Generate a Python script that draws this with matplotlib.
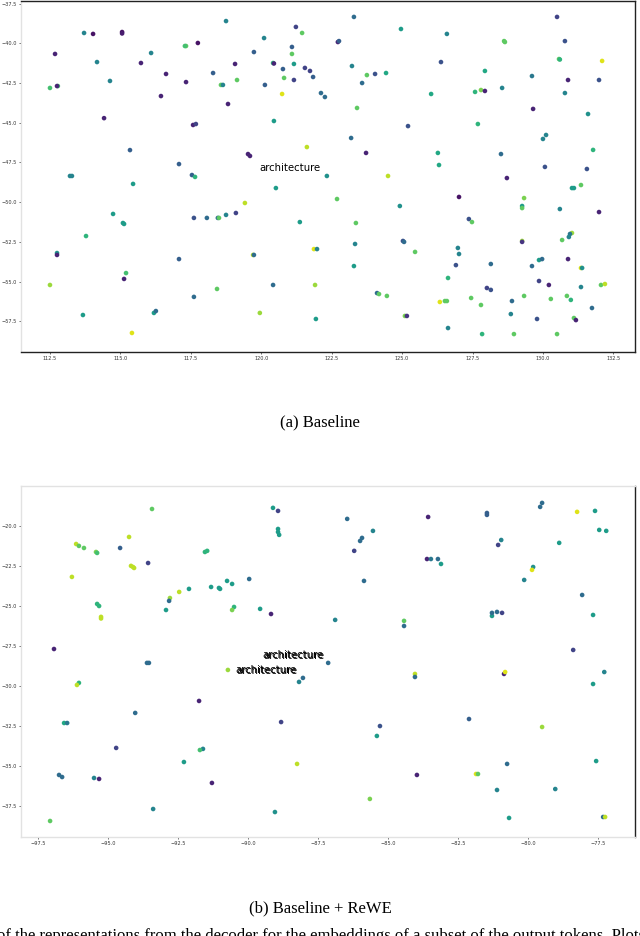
import matplotlib
matplotlib.use("Agg")
import matplotlib.pyplot as plt

# ==========================
# DATA: (a) Baseline
# ==========================
a_x = [118.75, 113.71, 114.03, 115.06, 115.06, 121.23, 121.45, 112.68, 117.33, 117.29,
       117.75, 120.10, 119.74, 121.09, 121.09, 114.17, 116.09, 115.73, 119.07, 120.42,
       120.45, 121.16, 120.77, 121.55, 121.73, 121.84, 114.63, 112.50, 112.78, 112.75,
       116.62, 117.33, 118.29, 118.57, 118.64, 119.14, 120.13, 120.81, 121.16, 120.74,
       116.44, 118.82, 114.42, 117.58, 117.68, 120.45, 121.62, 115.34, 119.53, 119.60,
       117.08, 113.21, 113.28, 117.54, 117.65, 115.45, 120.52,
       123.29, 130.50, 124.96, 126.59, 122.72, 122.76, 128.62, 128.65, 130.78, 130.57,
       130.60, 132.10, 126.38, 123.22, 123.75, 124.04, 124.43, 127.94, 129.61, 130.89,
       131.99, 123.58, 122.12, 122.26, 126.03, 127.59, 127.80, 127.94, 128.55, 130.78,
       123.40, 129.65, 131.60, 125.21, 127.69, 123.19, 123.72, 126.27, 126.31, 128.51,
       130.00, 130.11, 131.78, 122.33, 124.50, 130.07, 131.56, 128.72, 131.03, 131.10,
       131.35, 127.02, 129.33, 122.69,
       119.42, 114.74, 115.09, 115.13, 117.61, 118.07, 118.46, 118.50, 118.75, 119.10,
       121.37, 113.78, 112.75, 112.75, 117.08, 119.71, 119.74, 121.87, 121.98, 115.20,
       115.13, 112.50, 120.42, 121.91, 117.61, 118.43, 113.67, 116.19, 116.26, 119.95,
       121.94, 115.41,
       129.26, 129.26, 130.60, 131.99, 124.92, 123.36, 127.37, 127.48, 131.03, 130.96,
       130.92, 130.68, 129.26, 129.26, 123.33, 125.03, 125.07, 125.46, 126.98, 127.02,
       123.29, 126.91, 128.15, 129.61, 129.86, 129.97, 130.89, 131.35, 131.39, 126.63,
       129.86, 130.21, 131.35, 132.06, 132.20, 128.01, 128.15, 124.11, 124.18, 124.46,
       126.34, 126.52, 126.59, 127.45, 127.80, 128.90, 129.33, 130.28, 130.85, 130.99,
       131.74, 125.10, 125.17, 128.86, 129.79, 131.10, 131.17, 126.63, 127.84, 128.97,
       130.50]
a_y = [-38.60, -39.35, -39.41, -39.29, -39.38, -38.97, -39.35, -40.67, -40.17, -40.17,
       -39.98, -39.67, -40.55, -40.23, -40.67, -41.18, -40.61, -41.24, -41.30, -41.24,
       -41.27, -41.30, -41.62, -41.55, -41.74, -42.12, -42.37, -42.81, -42.69, -42.69,
       -41.93, -42.44, -41.87, -42.62, -42.62, -42.31, -42.62, -42.18, -42.31, -43.19,
       -43.32, -43.82, -44.71, -45.14, -45.08, -44.89, -46.53, -46.72, -46.97, -47.09,
       -47.60, -48.35, -48.35, -48.29, -48.41, -48.85, -49.11,
       -38.34, -38.34, -39.10, -39.41, -39.92, -39.86, -39.86, -39.92, -39.86, -40.99,
       -41.02, -41.11, -41.18, -41.43, -42.00, -41.93, -41.87, -41.74, -42.06, -42.31,
       -42.31, -42.50, -43.13, -43.38, -43.19, -43.06, -42.94, -43.00, -42.81, -43.13,
       -44.07, -44.13, -44.45, -45.21, -45.08, -45.96, -46.90, -46.90, -47.66, -46.97,
       -46.02, -45.77, -46.71, -48.35, -48.35, -47.78, -47.91, -48.48, -49.11, -49.11,
       -48.92, -49.67, -49.74, -49.80,
       -50.05, -50.74, -51.31, -51.37, -50.99, -50.99, -50.99, -50.99, -50.80, -50.68,
       -51.25, -52.13, -53.20, -53.32, -53.58, -53.32, -53.32, -52.95, -52.95, -54.46,
       -54.83, -55.21, -55.21, -55.21, -55.96, -55.46, -57.10, -56.97, -56.85, -56.97,
       -57.35, -58.23,
       -50.24, -50.37, -50.43, -50.62, -50.24, -51.31, -51.06, -51.25, -51.94, -52.00,
       -52.19, -52.38, -52.44, -52.50, -52.63, -52.44, -52.50, -53.13, -52.88, -53.26,
       -54.02, -53.96, -53.89, -54.02, -53.64, -53.58, -53.58, -54.14, -54.14, -54.77,
       -54.96, -55.21, -55.34, -55.21, -55.15, -55.40, -55.52, -55.72, -55.78, -55.90,
       -56.28, -56.22, -56.22, -56.03, -56.47, -56.22, -55.90, -56.09, -55.90, -56.15,
       -56.66, -57.16, -57.16, -57.04, -57.35, -57.29, -57.42, -57.92, -58.30, -58.30,
       -58.30]
a_c = [0.45, 0.45, 0.05, 0.05, 0.08, 0.20, 0.75, 0.10, 0.75, 0.70,
       0.05, 0.45, 0.30, 0.30, 0.75, 0.45, 0.45, 0.10, 0.10, 0.65,
       0.10, 0.55, 0.30, 0.20, 0.20, 0.30, 0.45, 0.70, 0.70, 0.10,
       0.10, 0.10, 0.30, 0.75, 0.45, 0.75, 0.30, 0.75, 0.20, 0.95,
       0.10, 0.10, 0.10, 0.10, 0.20, 0.55, 0.90, 0.30, 0.10, 0.10,
       0.30, 0.45, 0.45, 0.30, 0.65, 0.55, 0.55,
       0.35, 0.20, 0.55, 0.45, 0.10, 0.30, 0.75, 0.75, 0.25, 0.75,
       0.65, 0.95, 0.25, 0.45, 0.75, 0.25, 0.60, 0.60, 0.40, 0.10,
       0.25, 0.35, 0.35, 0.35, 0.60, 0.65, 0.80, 0.10, 0.45, 0.45,
       0.75, 0.10, 0.50, 0.25, 0.65, 0.35, 0.10, 0.60, 0.60, 0.35,
       0.45, 0.45, 0.65, 0.50, 0.90, 0.25, 0.25, 0.10, 0.55, 0.55,
       0.75, 0.05, 0.80, 0.75,
       0.90, 0.55, 0.55, 0.55, 0.25, 0.35, 0.35, 0.75, 0.45, 0.20,
       0.55, 0.65, 0.50, 0.10, 0.30, 0.90, 0.35, 0.95, 0.45, 0.70,
       0.10, 0.85, 0.35, 0.85, 0.35, 0.75, 0.55, 0.55, 0.35, 0.85,
       0.55, 0.95,
       0.55, 0.75, 0.45, 0.10, 0.50, 0.75, 0.25, 0.75, 0.85, 0.40,
       0.45, 0.75, 0.85, 0.15, 0.45, 0.25, 0.35, 0.75, 0.45, 0.45,
       0.55, 0.25, 0.35, 0.35, 0.55, 0.35, 0.10, 0.95, 0.50, 0.65,
       0.20, 0.10, 0.45, 0.75, 0.90, 0.20, 0.25, 0.35, 0.75, 0.75,
       0.95, 0.75, 0.75, 0.75, 0.75, 0.35, 0.75, 0.75, 0.75, 0.65,
       0.35, 0.80, 0.15, 0.45, 0.25, 0.75, 0.10, 0.45, 0.65, 0.75,
       0.75]

# ==========================
# DATA: (b) Baseline + ReWE
# ==========================
b_x = [-93.44, -89.12, -88.94, -88.94, -88.94, -88.90, -94.26, -96.15, -96.05, -95.87,
       -95.44, -95.40, -94.58, -96.30, -93.58, -94.19, -94.12, -94.08, -91.55, -91.47,
       -89.97, -90.76, -90.58, -91.33, -91.05, -91.01, -92.12, -92.47, -92.80, -92.83,
       -95.40, -95.33, -92.94, -90.51, -90.58, -89.58, -89.19, -95.26, -95.26, -96.94,
       -93.62, -93.55, -90.73, -88.05,
       -79.51, -79.58, -78.26, -77.62, -77.47, -77.22, -86.47, -83.58, -81.48, -81.48,
       -85.55, -85.94, -86.01, -86.22, -80.97, -81.08, -78.90, -83.62, -83.48, -83.23,
       -83.12, -79.83, -79.87, -80.15, -85.87, -78.08, -77.69, -86.90, -84.44, -84.44,
       -81.30, -81.30, -81.12, -80.94, -78.40, -87.15, -84.05, -84.05, -80.87, -80.83,
       -77.29,
       -96.05, -96.12, -88.19, -91.76, -94.04, -96.58, -96.47, -88.83, -94.72, -91.62,
       -91.73, -92.30, -88.26, -96.76, -96.65, -95.51, -95.33, -91.30, -93.40, -89.05,
       -97.08,
       -77.69, -85.30, -82.12, -85.41, -79.51, -77.58, -80.76, -83.98, -81.87, -81.80,
       -81.12, -79.04, -85.66, -80.69, -77.33, -77.26]
b_y = [-18.94, -18.87, -19.06, -20.19, -20.38, -20.56, -20.69, -21.13, -21.25, -21.38,
       -21.63, -21.69, -21.38, -23.19, -22.32, -22.50, -22.57, -22.63, -21.63, -21.56,
       -23.32, -23.44, -23.63, -23.82, -23.88, -23.94, -23.94, -24.13, -24.51, -24.69,
       -24.88, -25.01, -25.26, -25.07, -25.26, -25.19, -25.51, -25.69, -25.79, -27.70,
       -28.57, -28.57, -29.01, -29.51,
       -18.56, -18.81, -19.12, -19.06, -20.25, -20.31, -19.56, -19.44, -19.19, -19.31,
       -20.31, -20.75, -20.94, -21.56, -20.88, -21.19, -21.06, -22.07, -22.07, -22.07,
       -22.38, -22.57, -22.75, -23.38, -23.44, -24.32, -25.57, -25.88, -25.94, -26.26,
       -25.63, -25.44, -25.38, -25.44, -27.76, -28.57, -29.26, -29.45, -29.26, -29.14,
       -29.14,
       -29.82, -29.95, -29.76, -30.95, -31.70, -32.33, -32.33, -32.27, -33.89, -33.95,
       -34.02, -34.77, -34.89, -35.58, -35.71, -35.77, -35.83, -36.08, -37.71, -37.90,
       -38.46,
       -29.89, -32.52, -32.08, -33.14, -32.58, -34.71, -34.89, -35.58, -35.52, -35.52,
       -36.52, -36.46, -37.08, -38.27, -38.21, -38.21]
b_c = [0.75, 0.55, 0.20, 0.55, 0.55, 0.55, 0.90, 0.90, 0.75, 0.75,
       0.80, 0.70, 0.30, 0.90, 0.20, 0.90, 0.90, 0.90, 0.65, 0.65,
       0.35, 0.55, 0.55, 0.55, 0.55, 0.55, 0.55, 0.90, 0.85, 0.35,
       0.65, 0.65, 0.55, 0.65, 0.80, 0.55, 0.10, 0.90, 0.90, 0.10,
       0.35, 0.35, 0.85, 0.35,
       0.35, 0.35, 0.95, 0.55, 0.55, 0.55, 0.35, 0.10, 0.30, 0.30,
       0.45, 0.35, 0.35, 0.20, 0.45, 0.20, 0.55, 0.10, 0.40, 0.35,
       0.55, 0.50, 0.95, 0.45, 0.35, 0.35, 0.55, 0.45, 0.75, 0.35,
       0.55, 0.35, 0.35, 0.20, 0.20, 0.35, 0.90, 0.35, 0.10, 0.95,
       0.45,
       0.65, 0.90, 0.45, 0.10, 0.35, 0.60, 0.40, 0.20, 0.20, 0.45,
       0.70, 0.55, 0.90, 0.35, 0.35, 0.45, 0.10, 0.10, 0.45, 0.50,
       0.75,
       0.55, 0.25, 0.30, 0.55, 0.85, 0.55, 0.35, 0.10, 0.95, 0.75,
       0.45, 0.45, 0.80, 0.55, 0.35, 0.90]

a_xticks = [112.5, 115.0, 117.5, 120.0, 122.5, 125.0, 127.5, 130.0, 132.5]
a_yticks = [-37.5, -40.0, -42.5, -45.0, -47.5, -50.0, -52.5, -55.0, -57.5]
b_xticks = [-97.5, -95.0, -92.5, -90.0, -87.5, -85.0, -82.5, -80.0, -77.5]
b_yticks = [-20.0, -22.5, -25.0, -27.5, -30.0, -32.5, -35.0, -37.5]

word = "architecture"
a_word_pos = [(119.95, -47.85)]
b_word_pos = [(-89.51, -28.07), (-90.48, -29.01)]
captions = ["(a) Baseline", "(b) Baseline + ReWE"]
cut_line = ("of the representations from the decoder for the embeddings of a subset "
            "of the output tokens. Plots of")

# ==========================
# FIGURE
# ==========================
fig = plt.figure(figsize=(6.4, 9.36), dpi=100)
ax1 = fig.add_axes([0.0323, 0.6239, 0.960, 0.3755])
ax2 = fig.add_axes([0.0323, 0.1058, 0.960, 0.375])

dark = "#222222"
light = "#e2e2e2"


def style_axes(ax, xt, yt, xlim, ylim, spine_cols):
    ax.set_xticks(xt)
    ax.set_yticks(yt)
    ax.set_xlim(*xlim)
    ax.set_ylim(*ylim)
    ax.tick_params(labelsize=3.6, length=1.5, width=0.5, pad=1.2,
                   colors="#333333")
    for side, col in spine_cols.items():
        ax.spines[side].set_color(col)
        ax.spines[side].set_linewidth(1.0)


ax1.scatter(a_x, a_y, c=a_c, cmap="viridis", vmin=0, vmax=1, s=11,
            linewidths=0)
style_axes(ax1, a_xticks, a_yticks, (111.46, 133.27), (-59.43, -37.31),
           {"top": dark, "right": dark, "bottom": dark, "left": light})
for x, y in a_word_pos:
    ax1.text(x, y, word, fontsize=7.3, va="center", ha="left")

ax2.scatter(b_x, b_y, c=b_c, cmap="viridis", vmin=0, vmax=1, s=11,
            linewidths=0)
style_axes(ax2, b_xticks, b_yticks, (-98.13, -76.19), (-39.46, -17.50),
           {"top": light, "right": dark, "bottom": light, "left": light})
for x, y in b_word_pos:
    # the label is printed twice, slightly shifted
    ax2.text(x, y, word, fontsize=7.3, va="center", ha="left")
    ax2.text(x + 0.05, y - 0.04, word, fontsize=7.3, va="center", ha="left")

fig.text(0.5, 1 - 422 / 936, captions[0], family="Liberation Serif",
         fontsize=12, ha="center", va="center")
fig.text(0.5, 1 - 908 / 936, captions[1], family="Liberation Serif",
         fontsize=12, ha="center", va="center")
# caption line of the page, cut by the lower edge as in the source
fig.text(-0.004, 1 - 928 / 936, cut_line, family="Liberation Serif",
         fontsize=12, ha="left", va="top")

fig.savefig("out.png", dpi=100)
